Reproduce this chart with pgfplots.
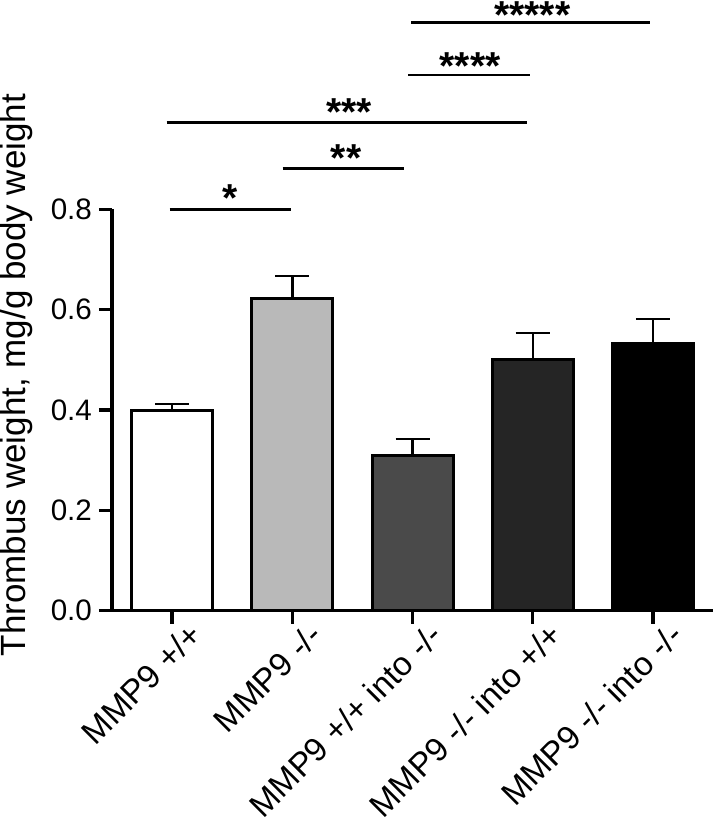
\documentclass[border=0pt]{standalone}
\usepackage{fontspec}
\setmainfont{Liberation Sans}
\usepackage{pgfplots}
\pgfplotsset{compat=1.18}
\begin{document}
\begin{tikzpicture}
\begin{axis}[
  at={(56pt,-305.35pt)}, anchor=south west,
  scale only axis, width=300.5pt, height=200.7pt,
  xmin=-0.5, xmax=4.5, ymin=0, ymax=0.8,
  axis x line*=bottom, axis y line*=left,
  axis line style={line width=1.75pt},
  tick align=outside, major tick length=6.5pt,
  tick style={line width=1.75pt, black},
  ytick={0,0.2,0.4,0.6,0.8},
  /pgf/number format/assume math mode=true,
  yticklabel style={/pgf/number format/fixed, /pgf/number format/fixed zerofill, /pgf/number format/precision=1, font=\fontsize{14.8}{14.8}\selectfont},
  xtick={0,1,2,3,4},
  xticklabels={MMP9 +/+, MMP9 -/-, MMP9 +/+ into -/-, MMP9 -/- into +/+, MMP9 -/- into -/-},
  xticklabel style={xshift=7.5pt, yshift=6.5pt, rotate=45, anchor=north east, font=\fontsize{16.6}{16.6}\selectfont},
  clip=false,
  ybar, bar width=40.5pt,
  every axis plot/.append style={draw=black, line width=1.5pt, bar shift=0pt,
    error bars/y dir=plus, error bars/y explicit,
    error bars/error bar style={line width=1.2pt, black},
    error bars/error mark options={rotate=90, mark size=8.5pt, line width=1.2pt, black}},
]
\addplot[fill=white] coordinates {(0,0.400) +- (0,0.012)};
\addplot[fill={rgb,255:red,185;green,185;blue,185}] coordinates {(1,0.623) +- (0,0.044)};
\addplot[fill={rgb,255:red,74;green,74;blue,74}] coordinates {(2,0.310) +- (0,0.032)};
\addplot[fill={rgb,255:red,37;green,37;blue,37}] coordinates {(3,0.501) +- (0,0.053)};
\addplot[fill=black] coordinates {(4,0.532) +- (0,0.049)};

\draw[line width=1.3pt] (axis cs:-0.021,0.800) -- (axis cs:0.991,0.800);
\draw[line width=1.3pt] (axis cs:0.919,0.881) -- (axis cs:1.933,0.881);
\draw[line width=1.3pt] (axis cs:-0.046,0.973) -- (axis cs:2.949,0.973);
\draw[line width=1.3pt] (axis cs:1.963,1.068) -- (axis cs:2.980,1.068);
\draw[line width=1.3pt] (axis cs:1.988,1.172) -- (axis cs:3.975,1.172);
\node[anchor=base, inner sep=0pt, font=\bfseries\fontsize{19.5}{19.5}\selectfont] at (axis cs:0.479,0.7966) {*};
\node[anchor=base, inner sep=0pt, font=\bfseries\fontsize{19.5}{19.5}\selectfont] at (axis cs:1.448,0.8763) {**};
\node[anchor=base, inner sep=0pt, font=\bfseries\fontsize{19.5}{19.5}\selectfont] at (axis cs:1.475,0.9680) {***};
\node[anchor=base, inner sep=0pt, font=\bfseries\fontsize{19.5}{19.5}\selectfont] at (axis cs:2.479,1.0597) {****};
\node[anchor=base, inner sep=0pt, font=\bfseries\fontsize{19.5}{19.5}\selectfont] at (axis cs:2.997,1.1603) {*****};
\end{axis}
\node[rotate=90, font=\fontsize{17.5}{17.5}\selectfont] at (8pt,-187.5pt) {Thrombus weight, mg/g body weight};
\pgfresetboundingbox
\path[use as bounding box] (0pt,0pt) rectangle (357.5pt,-412.5pt);
\end{tikzpicture}
\end{document}
